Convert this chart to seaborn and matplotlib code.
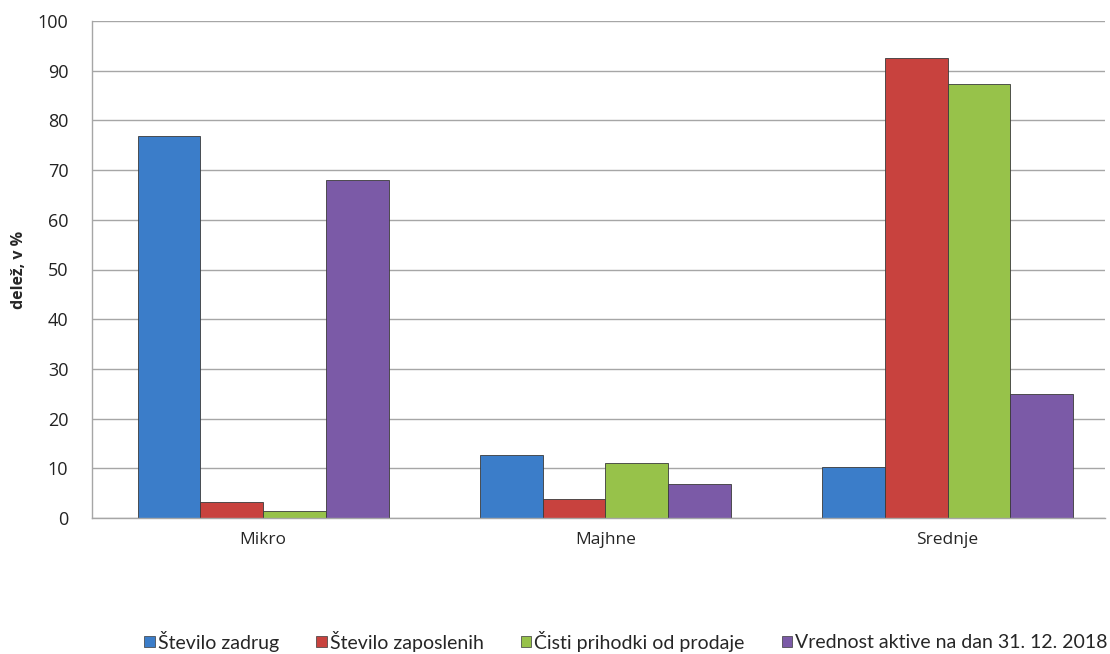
import pandas as pd
import matplotlib
matplotlib.use("Agg")
import matplotlib.pyplot as plt
import seaborn as sns
from matplotlib.patches import Patch

categories = ["Mikro", "Majhne", "Srednje"]
series = ["Število zadrug", "Število zaposlenih", "Čisti prihodki od prodaje",
          "Vrednost aktive na dan 31. 12. 2018"]
stevilo_zadrug = [76.9, 12.7, 10.2]
stevilo_zaposlenih = [3.3, 3.8, 92.6]
cisti_prihodki = [1.5, 11.0, 87.4]
vrednost_aktive = [68.0, 6.9, 24.9]
colors = ["#3b7dc9", "#c8423e", "#97c24a", "#7b5aa7"]

rows = []
for name, vals in zip(series, [stevilo_zadrug, stevilo_zaposlenih, cisti_prihodki, vrednost_aktive]):
    for cat, v in zip(categories, vals):
        rows.append({"kategorija": cat, "serija": name, "delez": v})
df = pd.DataFrame(rows)

sns.set_style("white")
plt.rcParams["font.family"] = ["Open Sans", "DejaVu Sans"]

fig = plt.figure(figsize=(11.1, 6.54), dpi=100)
ax = fig.add_axes([92 / 1110, 1 - 518 / 654, (1105 - 92) / 1110, (518 - 21) / 654])

sns.barplot(data=df, x="kategorija", y="delez", hue="serija", order=categories,
            hue_order=series, palette=colors, width=0.733, ax=ax,
            edgecolor="#3a3a3a", linewidth=0.6, saturation=1)

ax.set_ylim(0, 100)
ax.set_xlim(-0.5, 2.46)
ax.set_yticks(range(0, 101, 10))
ax.yaxis.grid(True, color="#a6a6a6", linewidth=1)
ax.set_axisbelow(True)
for s in ["top", "right"]:
    ax.spines[s].set_visible(False)
for s in ["left", "bottom"]:
    ax.spines[s].set_color("#a6a6a6")
    ax.spines[s].set_linewidth(1)

ax.set_xlabel("")
ax.set_ylabel("delež, v %", fontsize=11.5, fontweight="bold", labelpad=8)
ax.tick_params(axis="y", which="major", length=5, color="#a6a6a6", labelsize=13,
               labelcolor="#222222", pad=12)
ax.tick_params(axis="x", which="major", length=0, labelsize=12.5, pad=10)
ax.set_xticks([0.5, 1.5], minor=True)
ax.tick_params(axis="x", which="minor", length=5, color="#a6a6a6")

ax.get_legend().remove()
handles = [Patch(facecolor=c, edgecolor="#3a3a3a", linewidth=0.5) for c in colors]
fig.legend(handles, series, loc="center", bbox_to_anchor=(0.564, 1 - 641 / 654),
           ncol=4, frameon=False, handlelength=0.55, handleheight=0.55,
           handletextpad=0.15, columnspacing=1.9,
           prop={"family": ["Lato", "DejaVu Sans"], "size": 14})

fig.savefig("out.png", dpi=100)
